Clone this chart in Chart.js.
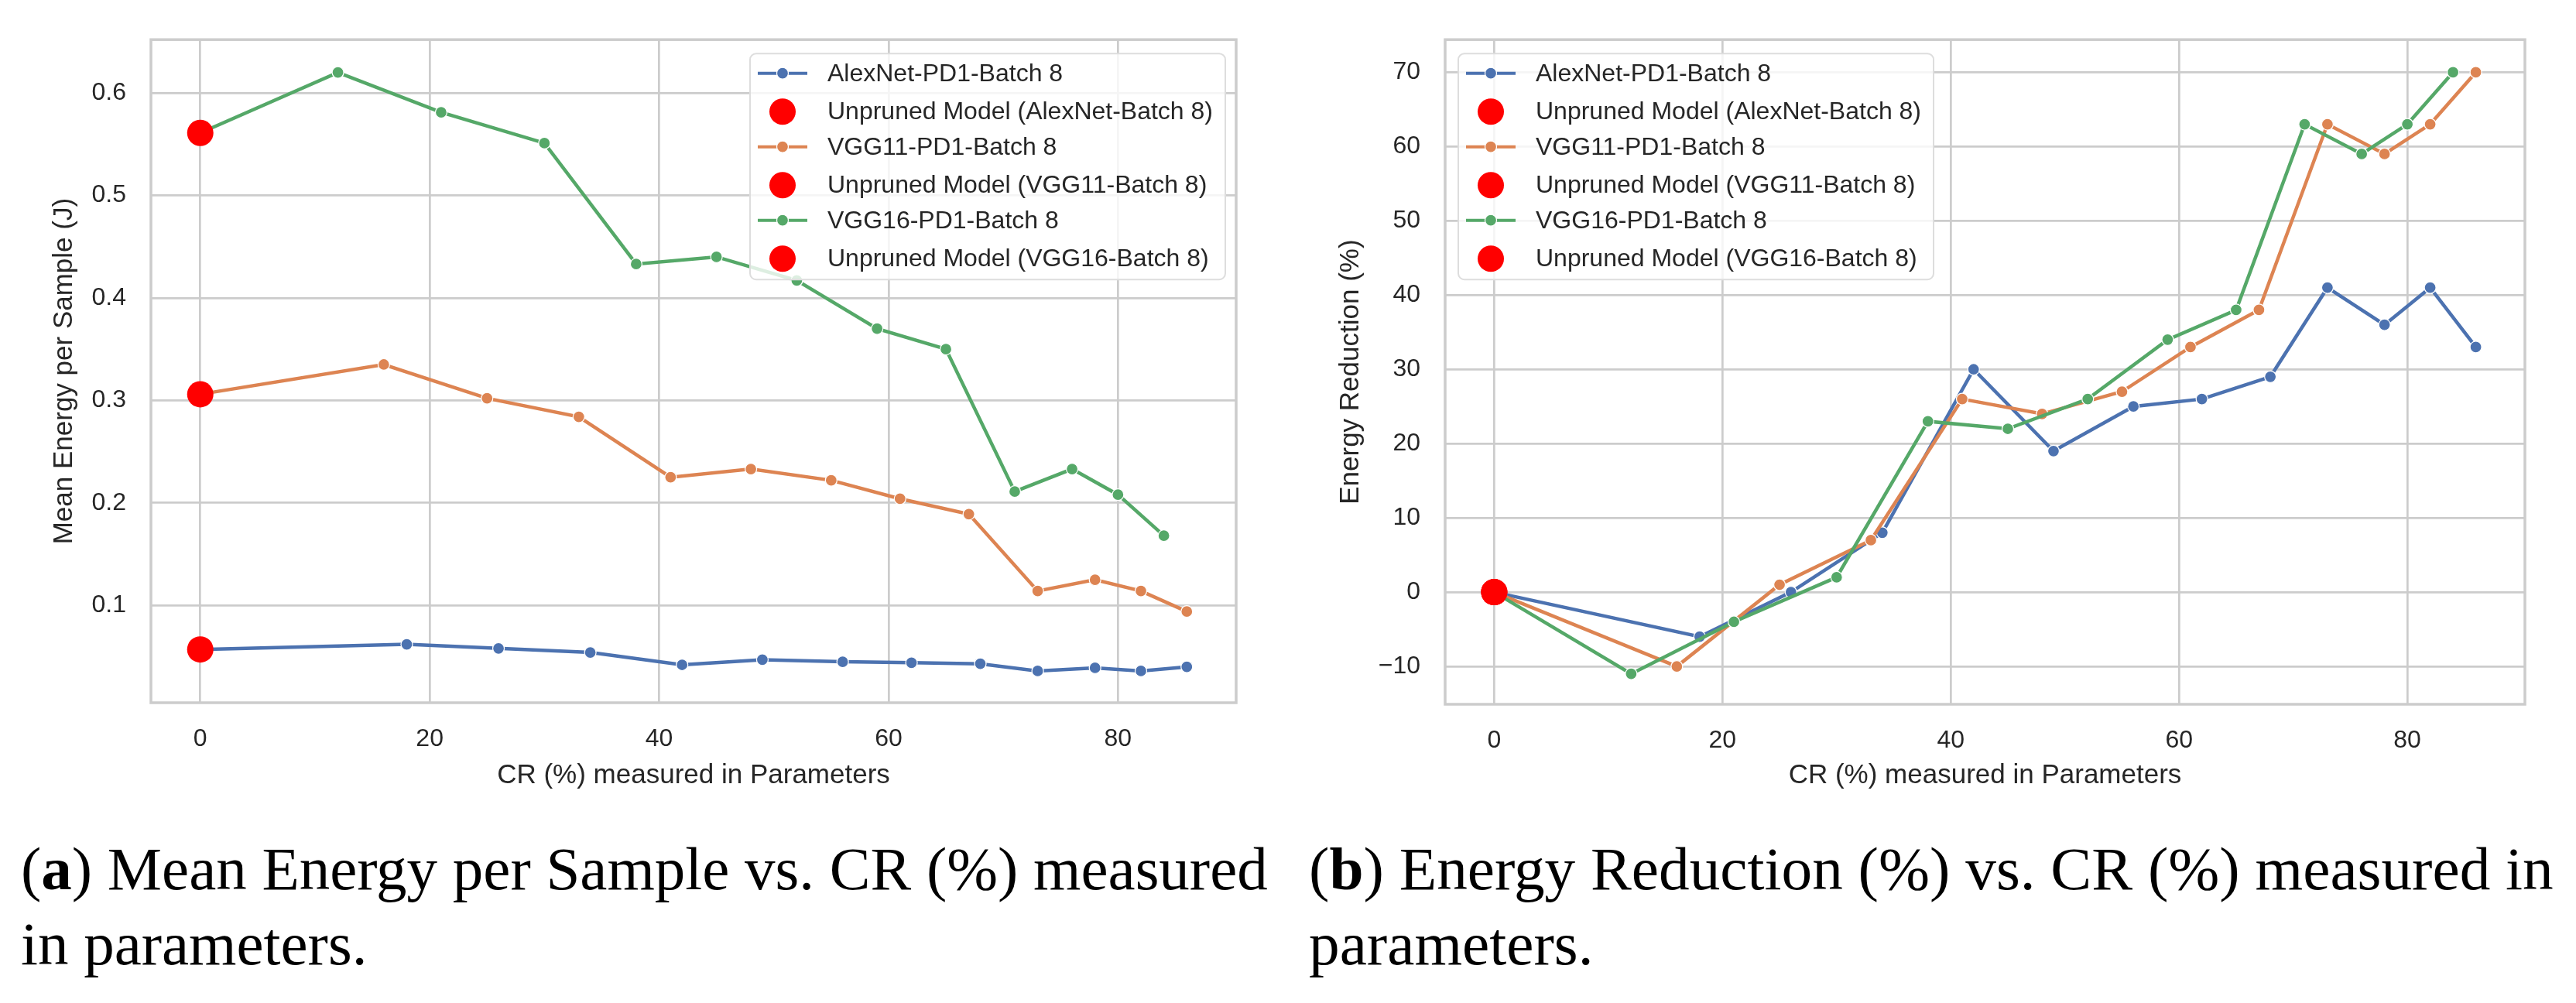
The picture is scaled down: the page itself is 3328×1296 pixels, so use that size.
<!DOCTYPE html>
<html>
<head>
<meta charset="utf-8">
<script src="https://cdn.jsdelivr.net/npm/chart.js@4.4.1/dist/chart.umd.min.js"></script>
<style>
  html, body { margin: 0; padding: 0; background: #fff; }
  body { width: 3328px; height: 1296px; position: relative; overflow: hidden; }
  canvas { position: absolute; top: 0; }
  #energyChart { left: 0; }
  #reductionChart { left: 1650px; }
  .caption { position: absolute; font-family: 'Liberation Serif', 'Times New Roman', serif; color: #000; white-space: nowrap; line-height: 1; }
</style>
</head>
<body>
<canvas id="energyChart" width="1650" height="1040"></canvas>
<canvas id="reductionChart" width="1678" height="1040"></canvas>
<div class="caption" id="capA1">(<b>a</b>) Mean Energy per Sample vs. CR (%) measured</div>
<div class="caption" id="capA2">in parameters.</div>
<div class="caption" id="capB1">(<b>b</b>) Energy Reduction (%) vs. CR (%) measured in</div>
<div class="caption" id="capB2">parameters.</div>
<script>
// series names
var lineLabels = ['AlexNet-PD1-Batch 8', 'VGG11-PD1-Batch 8', 'VGG16-PD1-Batch 8'];
var unprunedLabels = ['Unpruned Model (AlexNet-Batch 8)', 'Unpruned Model (VGG11-Batch 8)', 'Unpruned Model (VGG16-Batch 8)'];

// CR (%) measured in parameters, per model
var crAlexNet = [0, 18, 26, 34, 42, 49, 56, 62, 68, 73, 78, 82, 86];
var crVGG11 = [0, 16, 25, 33, 41, 48, 55, 61, 67, 73, 78, 82, 86];
var crVGG16 = [0, 12, 21, 30, 38, 45, 52, 59, 65, 71, 76, 80, 84];

// mean energy per sample (J)
var energyAlexNet = [0.057, 0.062, 0.058, 0.054, 0.042, 0.047, 0.045, 0.044, 0.043, 0.036, 0.039, 0.036, 0.040];
var energyVGG11 = [0.306, 0.335, 0.302, 0.284, 0.225, 0.233, 0.222, 0.204, 0.189, 0.114, 0.125, 0.114, 0.094];
var energyVGG16 = [0.561, 0.620, 0.581, 0.551, 0.433, 0.440, 0.417, 0.370, 0.350, 0.211, 0.233, 0.208, 0.168];
var unprunedEnergy = [0.057, 0.306, 0.561];

// energy reduction (%)
var reductionAlexNet = [0, -6, 0, 8, 30, 19, 25, 26, 29, 41, 36, 41, 33];
var reductionVGG11 = [0, -10, 1, 7, 26, 24, 27, 33, 38, 63, 59, 63, 70];
var reductionVGG16 = [0, -11, -4, 2, 23, 22, 26, 34, 38, 63, 59, 63, 70];
var unprunedReduction = [0, 0, 0];

// ticks
var crTicks = [0, 20, 40, 60, 80];
var energyTicks = [0.1, 0.2, 0.3, 0.4, 0.5, 0.6];
var reductionTicks = [-10, 0, 10, 20, 30, 40, 50, 60, 70];

var colors = ['#4c72b0', '#dd8452', '#55a868'];
var textColor = '#262626';
var fontFamily = "'Liberation Sans', Arial, sans-serif";

Chart.defaults.font.family = fontFamily;
Chart.defaults.color = textColor;

function toPoints(xs, ys) {
    return xs.map(function (x, i) { return { x: x, y: ys[i] }; });
}

function buildDatasets(crLists, valueLists, unpruned) {
    var sets = [];
    for (var i = 0; i < 3; i++) {
        sets.push({
            label: lineLabels[i],
            data: toPoints(crLists[i], valueLists[i]),
            borderColor: colors[i],
            backgroundColor: colors[i],
            borderWidth: 4.5,
            pointRadius: 7.5,
            pointBorderWidth: 1.25,
            pointBorderColor: '#ffffff',
            pointBackgroundColor: colors[i],
            tension: 0,
            order: 3 - i
        });
        sets.push({
            label: unprunedLabels[i],
            data: [{ x: 0, y: unpruned[i] }],
            showLine: false,
            pointRadius: 17,
            pointBorderWidth: 0,
            pointBackgroundColor: '#ff0000',
            backgroundColor: '#ff0000',
            borderColor: '#ff0000',
            order: 0
        });
    }
    return sets;
}

// grey frame round the plot area (all four spines)
var framePlugin = {
    id: 'frame',
    beforeDatasetsDraw: function (chart) {
        var a = chart.chartArea, ctx = chart.ctx;
        ctx.save();
        ctx.strokeStyle = '#cccccc';
        ctx.lineWidth = 3.5;
        ctx.strokeRect(a.left, a.top, a.right - a.left, a.bottom - a.top);
        ctx.restore();
    }
};

// matplotlib style legend inside the plot
var boxLegendPlugin = {
    id: 'boxLegend',
    afterDraw: function (chart, args, opts) {
        var ctx = chart.ctx, a = chart.chartArea;
        var sets = chart.data.datasets;
        ctx.save();
        ctx.font = '32px ' + fontFamily;
        var maxW = 0;
        sets.forEach(function (ds) { maxW = Math.max(maxW, ctx.measureText(ds.label).width); });
        var w = 100 + maxW + 16, h = 292;
        var x = opts.side === 'right' ? a.right - 14 - w : a.left + 17;
        var y = a.top + 18;
        ctx.beginPath();
        if (ctx.roundRect) ctx.roundRect(x, y, w, h, 8); else ctx.rect(x, y, w, h);
        ctx.fillStyle = 'rgba(255,255,255,0.8)';
        ctx.fill();
        ctx.strokeStyle = '#dddddd';
        ctx.lineWidth = 2;
        ctx.stroke();
        sets.forEach(function (ds, i) {
            var cy = y + 25.5 + Math.floor(i / 2) * 95 + (i % 2 ? 49.5 : 0);
            var cx = x + 42;
            if (ds.showLine === false) {
                ctx.beginPath();
                ctx.arc(cx, cy, 17, 0, Math.PI * 2);
                ctx.fillStyle = ds.pointBackgroundColor;
                ctx.fill();
            } else {
                ctx.beginPath();
                ctx.moveTo(x + 10, cy);
                ctx.lineTo(x + 74, cy);
                ctx.strokeStyle = ds.borderColor;
                ctx.lineWidth = 4;
                ctx.stroke();
                ctx.beginPath();
                ctx.arc(cx, cy, 7.5, 0, Math.PI * 2);
                ctx.fillStyle = ds.pointBackgroundColor;
                ctx.fill();
                ctx.strokeStyle = '#ffffff';
                ctx.lineWidth = 1.25;
                ctx.stroke();
            }
            ctx.fillStyle = textColor;
            ctx.textBaseline = 'middle';
            ctx.textAlign = 'left';
            ctx.fillText(ds.label, x + 100, cy + 1);
        });
        ctx.restore();
    }
};

function makeChart(id, c) {
    var ctx = document.getElementById(id).getContext('2d');
    return new Chart(ctx, {
        type: 'line',
        data: { datasets: c.datasets },
        options: {
            responsive: false,
            animation: false,
            layout: { padding: { left: 0, top: c.top, right: c.right, bottom: 0 } },
            plugins: {
                legend: { display: false },
                tooltip: { enabled: false },
                boxLegend: { side: c.legendSide }
            },
            scales: {
                x: {
                    type: 'linear',
                    min: -4.3,
                    max: 90.3,
                    afterBuildTicks: function (scale) {
                        scale.ticks = crTicks.map(function (v) { return { value: v }; });
                    },
                    afterFit: function (scale) { scale.height = c.xHeight; },
                    grid: { color: '#cccccc', lineWidth: 2.7, drawTicks: false },
                    border: { display: false },
                    ticks: { padding: 28, font: { size: 32 }, color: textColor },
                    title: {
                        display: true,
                        text: 'CR (%) measured in Parameters',
                        font: { size: 35 },
                        color: textColor,
                        padding: { top: 0, bottom: 17 }
                    }
                },
                y: {
                    type: 'linear',
                    min: c.yMin,
                    max: c.yMax,
                    afterBuildTicks: function (scale) {
                        scale.ticks = c.yTicks.map(function (v) { return { value: v }; });
                    },
                    afterFit: function (scale) { scale.width = c.yWidth; },
                    grid: { color: '#cccccc', lineWidth: 2.7, drawTicks: false },
                    border: { display: false },
                    ticks: {
                        padding: 32,
                        font: { size: 32 },
                        color: textColor,
                        callback: c.yFormat
                    },
                    title: {
                        display: true,
                        text: c.yTitle,
                        font: { size: 35 },
                        color: textColor,
                        padding: { top: c.yTitleOffset, bottom: 0 }
                    }
                }
            }
        },
        plugins: [framePlugin, boxLegendPlugin]
    });
}

makeChart('energyChart', {
    datasets: buildDatasets([crAlexNet, crVGG11, crVGG16], [energyAlexNet, energyVGG11, energyVGG16], unprunedEnergy),
    top: 37, right: 53, yWidth: 195, xHeight: 132,
    yMin: 0.005, yMax: 0.652, yTicks: energyTicks,
    yFormat: function (v) { return v.toFixed(1); },
    yTitle: 'Mean Energy per Sample (J)', yTitleOffset: 62,
    legendSide: 'right'
});

makeChart('reductionChart', {
    datasets: buildDatasets([crAlexNet, crVGG11, crVGG16], [reductionAlexNet, reductionVGG11, reductionVGG16], unprunedReduction),
    top: 44, right: 66, yWidth: 217, xHeight: 130,
    yMin: -15.1, yMax: 74.4, yTicks: reductionTicks,
    yFormat: function (v) { return String(v).replace('-', '\u2212'); },
    yTitle: 'Energy Reduction (%)', yTitleOffset: 74,
    legendSide: 'left'
});

// captions under the two panels
function placeCaption(id1, id2, left, base1, base2, targetWidth) {
    var e1 = document.getElementById(id1), e2 = document.getElementById(id2);
    e1.style.fontSize = '100px';
    var w = e1.getBoundingClientRect().width;
    var size = 100 * targetWidth / w;
    [[e1, base1], [e2, base2]].forEach(function (p) {
        p[0].style.fontSize = size + 'px';
        p[0].style.left = left + 'px';
        p[0].style.top = (p[1] - 0.8375 * size) + 'px';
    });
}
placeCaption('capA1', 'capA2', 27, 1149, 1246, 1611);
placeCaption('capB1', 'capB2', 1691, 1149, 1246, 1608);
</script>
</body>
</html>
